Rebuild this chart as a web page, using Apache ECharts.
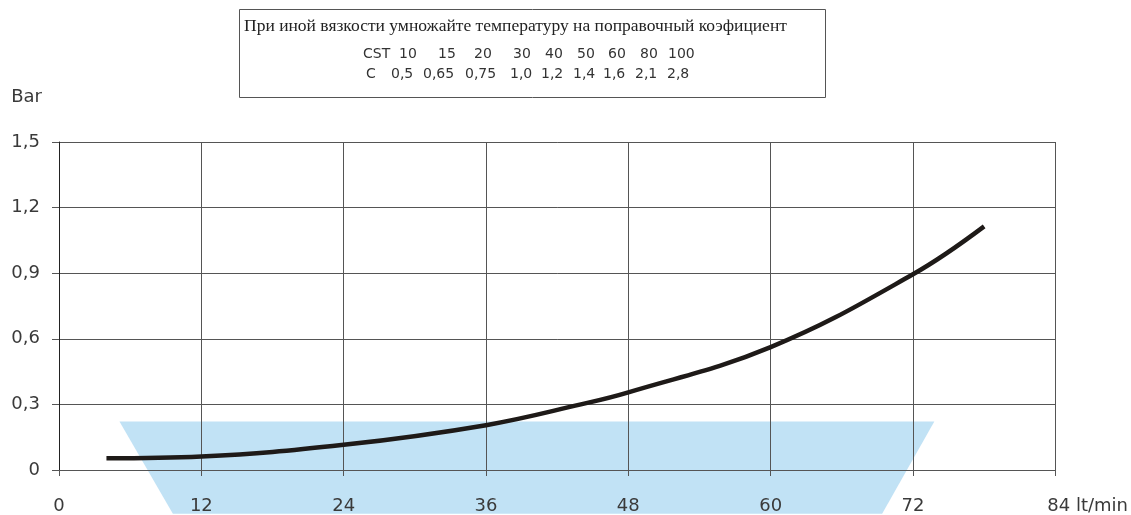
<!DOCTYPE html>
<html>
<head>
<meta charset="utf-8">
<script src="https://cdn.jsdelivr.net/npm/echarts@6/dist/echarts.min.js"></script>
<style>
html,body{margin:0;padding:0;background:#fff;}
#chart{width:1131px;height:515px;}
</style>
</head>
<body>
<div id="chart"></div>
<script>
// ---- data ----
const flowX = [4, 12, 24, 36, 44, 48, 60, 72, 78];            // lt/min
const pressure = [0.054, 0.062, 0.115, 0.205, 0.3, 0.355, 0.562, 0.895, 1.114]; // Bar
const xTickLabels = ['0', '12', '24', '36', '48', '60', '72', ''];
const yTickLabels = ['0', '0,3', '0,6', '0,9', '1,2', '1,5'];
const zoneX = [5.1, 73.8, 69.4, 9.6];       // blue zone corners (x)
const zoneY = [0.222, 0.222, -0.2, -0.2];   // blue zone corners (y)
const noteTitle = 'При иной вязкости умножайте температуру на поправочный коэфициент';
const cstRow = ['10', '15', '20', '30', '40', '50', '60', '80', '100'];
const cRow = ['0,5', '0,65', '0,75', '1,0', '1,2', '1,4', '1,6', '2,1', '2,8'];

// ---- layout (not data) ----
const cstColX = [399, 438, 474, 513, 545, 577, 608, 640, 668];
const cColX = [391, 423, 465, 510, 541, 573, 603, 635, 667];

const chart = echarts.init(document.getElementById('chart'));
const FONT = 'DejaVu Sans';
const TXT = '#3a3a3a';
const GRID = '#555';
const TFONT = '14px "DejaVu Sans"';

const tableText = [];
tableText.push({type:'text', left:363, top:47, style:{text:'CST', font:TFONT, fill:'#333'}});
tableText.push({type:'text', left:366, top:67, style:{text:'C', font:TFONT, fill:'#333'}});
cstRow.forEach((t,i)=>tableText.push({type:'text', left:cstColX[i], top:47, style:{text:t, font:TFONT, fill:'#333'}}));
cRow.forEach((t,i)=>tableText.push({type:'text', left:cColX[i], top:67, style:{text:t, font:TFONT, fill:'#333'}}));

chart.setOption({
  animation:false,
  backgroundColor:'#fff',
  grid:{left:59, right:74, top:142, bottom:43, containLabel:false},
  xAxis:{
    type:'value', min:0, max:84, interval:12,
    name:'84 lt/min', nameLocation:'end', nameGap:-8,
    nameTextStyle:{fontFamily:FONT, fontSize:18, color:TXT, verticalAlign:'top', align:'left', padding:[27,0,0,0]},
    axisLine:{show:true, onZero:false, lineStyle:{color:GRID, width:1}},
    axisTick:{show:true, length:6, lineStyle:{color:GRID}},
    axisLabel:{margin:27, fontFamily:FONT, fontSize:18, color:TXT,
      formatter:(v)=>xTickLabels[Math.round(v/12)] ?? ''},
    splitLine:{show:true, lineStyle:{color:GRID, width:1}}
  },
  yAxis:{
    type:'value', min:0, max:1.5, interval:0.3,
    name:'Bar', nameLocation:'end', nameGap:36,
    nameTextStyle:{fontFamily:FONT, fontSize:18, color:TXT, align:'right', padding:[0,17,0,0]},
    axisLine:{show:true, lineStyle:{color:'#222', width:1}},
    axisTick:{show:true, length:7, lineStyle:{color:GRID}},
    axisLabel:{margin:19, fontFamily:FONT, fontSize:18, color:TXT, padding:[5,0,0,0],
      formatter:(v)=>yTickLabels[Math.round(v/0.3)] ?? ''},
    splitLine:{show:true, lineStyle:{color:GRID, width:1}}
  },
  graphic:[
    {type:'rect', left:239, top:9, shape:{width:586, height:88}, style:{fill:'#fff', stroke:'#555', lineWidth:1}},
    {type:'text', left:244, top:17, style:{text:noteTitle, font:'17.5px "Liberation Serif"', fill:'#222'}},
    ...tableText
  ],
  series:[
    {
      type:'custom', z:-1, clip:false, silent:true,
      data:[0],
      renderItem:(params, api)=>{
        const pts = zoneX.map((x,i)=>api.coord([x, zoneY[i]]));
        return {type:'polygon', shape:{points:pts}, style:{fill:'#c1e2f5'}};
      }
    },
    {
      type:'line', smooth:0.4, symbol:'none', z:5,
      data: flowX.map((x,i)=>[x, pressure[i]]),
      lineStyle:{color:'#1e1a18', width:4.5}
    }
  ]
});
</script>
</body>
</html>
